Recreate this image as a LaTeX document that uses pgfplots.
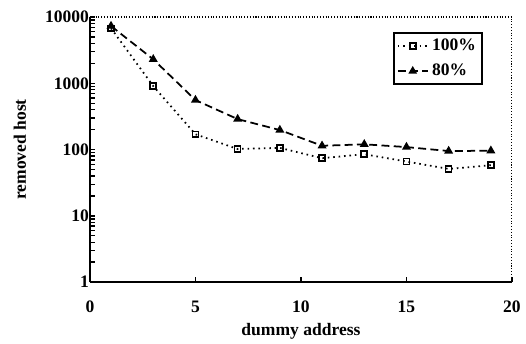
\documentclass[border=0pt]{standalone}
\usepackage{pgfplots}
\pgfplotsset{compat=1.18}
\usepackage{fontspec}
\setmainfont{Liberation Serif}
\begin{document}
\begin{tikzpicture}
\useasboundingbox (-51.3pt,-34.8pt) rectangle (248.7pt,160.9pt);
\begin{axis}[
  at={(0,0)}, anchor=south west,
  scale only axis, width=240.7pt, height=151.2pt,
  ymode=log, xmin=0, xmax=20, ymin=1, ymax=10000,
  axis x line*=bottom, axis y line*=left,
  axis line style={line width=1.1pt, -},
  xtick={0,5,10,15,20}, xticklabels={0,5,10,15,20},
  ytick={1,10,100,1000,10000}, yticklabels={1,10,100,1000,10000},
  minor ytick={}, 
  tick align=inside, major tick length=3pt,
  tick style={line width=0.8pt, black},
  ticklabel style={font=\bfseries},
  xticklabel style={yshift=-7pt},
  yticklabel style={xshift=3pt},
  xlabel={\bfseries dummy address}, ylabel={\bfseries removed host},
  xlabel style={at={(axis description cs:0.5,0)}, anchor=center, yshift=-28pt},
  ylabel style={at={(axis description cs:0,0.5)}, anchor=center, xshift=0pt, yshift=40pt},
  legend style={at={(0.931,0.943)}, anchor=north east, draw=black, line width=1pt,
    font=\bfseries, inner sep=1.5pt, row sep=2pt, legend cell align=left},
  legend image post style={line width=0.9pt},
  clip=false,
]
\addplot[black, dash pattern=on 0.9pt off 2.2pt, line width=1pt, mark=square, mark size=1.7pt, mark options={solid, line width=0.9pt}]
 coordinates {(1,6760) (3,908) (5,170) (7,102) (9,106) (11,74) (13,85) (15,66) (17,51) (19,58)};
\addlegendentry{100\%}
\addplot[black, dash pattern=on 4.5pt off 2.5pt, line width=1pt, mark=triangle*, mark size=2pt, mark options={solid}]
 coordinates {(1,7300) (3,2300) (5,558) (7,288) (9,197) (11,114) (13,120) (15,109) (17,95) (19,96)};
\addlegendentry{80\%}
\draw[densely dotted, line width=0.6pt] (rel axis cs:0,1) -- (rel axis cs:1,1) -- (rel axis cs:1,0);
\end{axis}
\end{tikzpicture}
\end{document}
